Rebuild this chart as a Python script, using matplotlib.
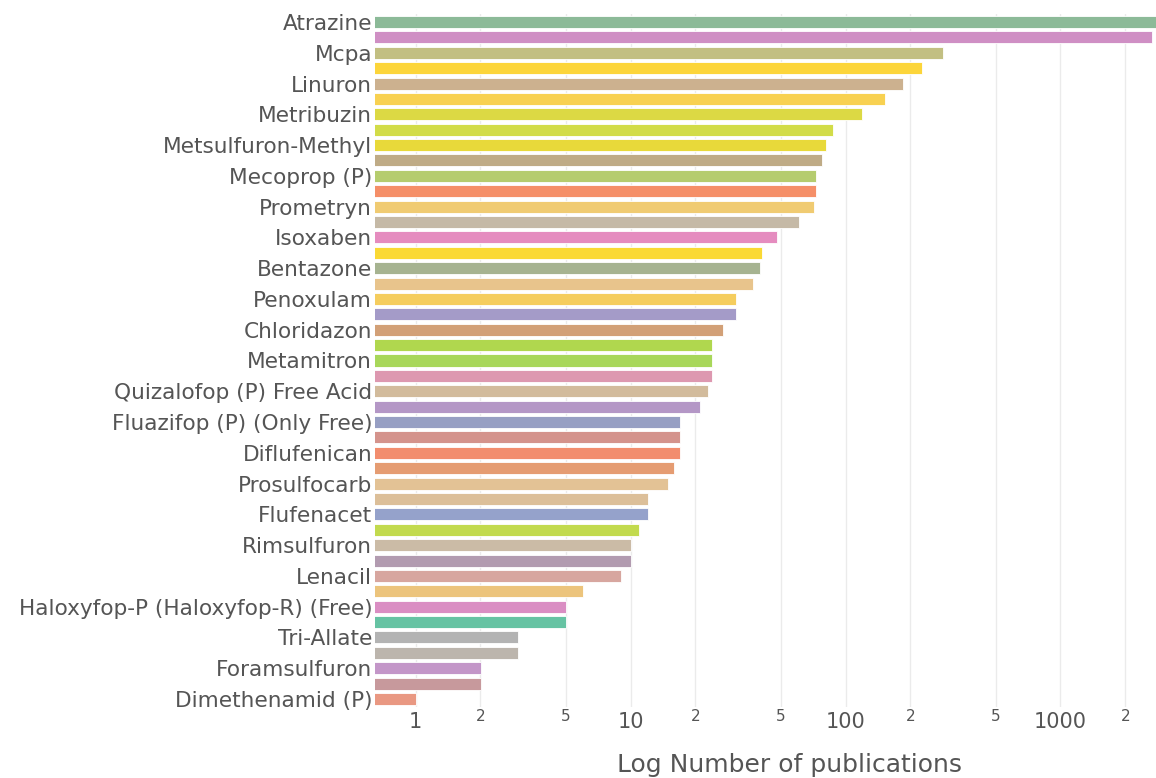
import numpy as np
import matplotlib
matplotlib.use("Agg")
import matplotlib.pyplot as plt

# Herbicides ordered by publication count (descending)
compounds = [
    "Atrazine", "Glyphosate", "Mcpa", "Isoproturon", "Linuron", "Diuron",
    "Metribuzin", "Chlorotoluron", "Metsulfuron-Methyl", "Terbuthylazine",
    "Mecoprop (P)", "Dicamba", "Prometryn", "Pendimethalin", "Isoxaben",
    "Clopyralid", "Bentazone", "Propyzamide", "Penoxulam", "Metazachlor",
    "Chloridazon", "Ethofumesate", "Metamitron", "Clomazone",
    "Quizalofop (P) Free Acid", "Florasulam", "Fluazifop (P) (Only Free)",
    "Fluroxypyr", "Diflufenican", "Triclopyr", "Prosulfocarb", "Aclonifen",
    "Flufenacet", "Mesosulfuron", "Rimsulfuron", "Tribenuron", "Lenacil",
    "Picloram", "Haloxyfop-P (Haloxyfop-R) (Free)", "Carbetamide",
    "Tri-Allate", "Propaquizafop", "Foramsulfuron", "Napropamide",
    "Dimethenamid (P)",
]

publications = [
    3400, 2660, 284, 226, 186, 152,
    119, 87, 81, 78,
    73, 73, 71, 61, 48,
    41, 40, 37, 31, 31,
    27, 24, 24, 24,
    23, 21, 17,
    17, 17, 16, 15, 12,
    12, 11, 10, 10, 9,
    6, 5, 5,
    3, 3, 2, 2,
    1,
]

bar_colors = [
    "#8cba98", "#cf8fc4", "#c2bf82", "#fcd53a", "#ccb18f", "#f8d151",
    "#dcd944", "#d2dc48", "#e8d93a", "#bfab86", "#b5cc6e", "#f58f68",
    "#f0cb72", "#c5b9a6", "#e58cbf", "#fad934", "#a6b390", "#e8c48c",
    "#f5cd5e", "#a49bc8", "#d2a077", "#b0d74e", "#a8d75a", "#dd98b0",
    "#d2bb9c", "#b497c6", "#979fc3", "#d4938c", "#f28d6e", "#e59c72",
    "#e3c295", "#dcbf99", "#95a2cb", "#c2da4e", "#cbbba6", "#b29bb0",
    "#d7a69f", "#ecc47c", "#da8ec3", "#66c3a3", "#b3b3b3", "#bcb5ad",
    "#c396c8", "#c7999c", "#e99882",
]

major_ticks = [1, 10, 100, 1000]
minor_ticks = [2, 5, 20, 50, 200, 500, 2000]

W, H = 1156, 778
fig = plt.figure(figsize=(W / 100, H / 100), dpi=100)
# plot area runs slightly past the right edge of the canvas
left_px, right_px, top_px, bottom_px = 375, 1204, 14.3, 706.7
ax = fig.add_axes([left_px / W, 1 - bottom_px / H,
                   (right_px - left_px) / W, (bottom_px - top_px) / H])

text_color = "#555555"
font = "DejaVu Sans"

n = len(compounds)
ypos = np.arange(n)
ax.barh(ypos, publications, height=0.78, color=bar_colors,
        edgecolor="white", linewidth=0.6, zorder=2, left=0.01)

ax.set_xscale("log")
ax.set_xlim(0.648, 4650)
ax.set_ylim(n - 0.5, -0.5)

for v in major_ticks + minor_ticks:
    ax.axvline(v, color="#ebebeb", linewidth=1.0, zorder=1)

ax.set_xticks(major_ticks)
ax.set_xticklabels([str(v) for v in major_ticks], fontsize=15,
                   color=text_color, family=font)
ax.set_xticks(minor_ticks, minor=True)
ax.set_xticklabels([str(v)[0] for v in minor_ticks], minor=True,
                   fontsize=11, color=text_color, family=font)
ax.tick_params(axis="x", which="major", length=0, pad=3.5)
ax.tick_params(axis="x", which="minor", length=0, pad=2)

ax.set_yticks(ypos[::2])
ax.set_yticklabels(compounds[::2], fontsize=15.6, color=text_color,
                   family=font)
ax.tick_params(axis="y", length=0, pad=2)

ax.set_xlabel("Log Number of publications", fontsize=18,
              color=text_color, family=font)
label_y = (bottom_px - 765) / (bottom_px - top_px)
ax.xaxis.set_label_coords(0.5, label_y)
ax.xaxis.label.set_va("center")

for s in ax.spines.values():
    s.set_visible(False)

fig.savefig("out.png", dpi=100)
